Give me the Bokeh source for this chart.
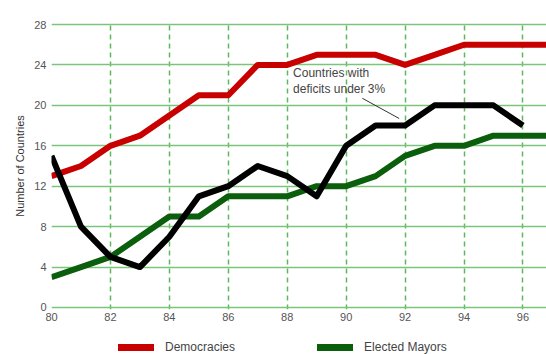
from bokeh.plotting import figure
from bokeh.layouts import column
from bokeh.models import Range1d, FixedTicker, Legend, LegendItem, Label, Segment, ColumnDataSource
from bokeh.embed import file_html
from bokeh.resources import INLINE

years = [80, 81, 82, 83, 84, 85, 86, 87, 88, 89, 90, 91, 92, 93, 94, 95, 96, 97]
democracies = [13, 14, 16, 17, 19, 21, 21, 24, 24, 25, 25, 25, 24, 25, 26, 26, 26, 26]
mayors = [3, 4, 5, 7, 9, 9, 11, 11, 11, 12, 12, 13, 15, 16, 16, 17, 17, 17]
deficit_years = [80, 81, 82, 83, 84, 85, 86, 87, 88, 89, 90, 91, 92, 93, 94, 95, 96]
deficits = [15, 8, 5, 4, 7, 11, 12, 14, 13, 11, 16, 18, 18, 20, 20, 20, 18]
x_ticks = [80, 82, 84, 86, 88, 90, 92, 94, 96]
y_ticks = [0, 4, 8, 12, 16, 20, 24, 28]

FONT = "Liberation Sans"
RED = "#c80000"
GREEN = "#0b5e0b"

p = figure(width=546, height=330, output_backend="svg", toolbar_location=None,
           x_range=Range1d(80, 96.8), y_range=Range1d(-0.2, 28.2),
           min_border_left=51, min_border_right=0, min_border_top=22, min_border_bottom=21)
p.outline_line_color = None
p.background_fill_color = "white"

# grids
p.xgrid.ticker = FixedTicker(ticks=[82, 84, 86, 88, 90, 92, 94, 96])
p.xgrid.grid_line_color = "#5cb85c"
p.xgrid.grid_line_dash = "5 4"
p.xgrid.grid_line_width = 1.5
p.ygrid.ticker = FixedTicker(ticks=y_ticks)
p.ygrid.grid_line_color = "#7cc47c"
p.ygrid.grid_line_width = 1.5

# axes
for ax in (p.xaxis[0], p.yaxis[0]):
    ax.axis_line_color = None
    ax.major_tick_line_color = None
    ax.minor_tick_line_color = None
    ax.major_tick_out = 0
    ax.major_tick_in = 0
    ax.minor_tick_out = 0
    ax.minor_tick_in = 0
    ax.major_label_text_font = FONT
    ax.major_label_text_font_size = "11px"
    ax.major_label_text_color = "#555555"
p.xaxis.ticker = FixedTicker(ticks=x_ticks)
p.yaxis.ticker = FixedTicker(ticks=y_ticks)
p.xaxis.major_label_standoff = 3
p.yaxis.major_label_standoff = 5
p.yaxis.axis_label = "Number of Countries"
p.yaxis.axis_label_text_font = FONT
p.yaxis.axis_label_text_font_size = "11px"
p.yaxis.axis_label_text_font_style = "normal"
p.yaxis.axis_label_text_color = "#333333"
p.yaxis.axis_label_standoff = 5

p.line(years, democracies, line_color=RED, line_width=6, line_join="round")
p.line(years, mayors, line_color=GREEN, line_width=6, line_join="round")
p.line(deficit_years, deficits, line_color="black", line_width=6, line_join="round")

# annotation
lab = Label(x=88.2, y=23.9, text="Countries with\ndeficits under 3%", text_font=FONT,
            text_font_size="12px", text_color="#444444", text_baseline="top", text_line_height=1.15)
p.add_layout(lab)
seg_src = ColumnDataSource(dict(x0=[90.55], y0=[20.7], x1=[91.8], y1=[18.7]))
p.add_glyph(seg_src, Segment(x0="x0", y0="y0", x1="x1", y1="y1", line_color="#333333", line_width=1))

# legend strip (series drawn off-view; only their legend glyphs show)
lg = figure(width=546, height=24, output_backend="svg", toolbar_location=None,
            x_range=Range1d(0, 1), y_range=Range1d(0, 1),
            min_border_left=0, min_border_right=0, min_border_top=0, min_border_bottom=0)
lg.outline_line_color = None
lg.axis.visible = False
lg.grid.visible = False
d_dem = lg.line(years, democracies, line_color=RED, line_width=7, line_cap="round")
d_may = lg.line(years, mayors, line_color=GREEN, line_width=7, line_cap="round")
legend = Legend(items=[LegendItem(label="Democracies", renderers=[d_dem]),
                       LegendItem(label="Elected Mayors", renderers=[d_may])],
                orientation="horizontal", location=(67, 0), padding=0, margin=0,
                spacing=82, glyph_width=36, glyph_height=12, label_height=12,
                label_standoff=11, label_text_font=FONT, label_text_font_size="12px",
                label_text_color="#444444", border_line_color=None,
                background_fill_alpha=0)
lg.add_layout(legend, "center")

layout = column(p, lg, spacing=0)
open("out.html", "w").write(file_html(layout, INLINE))
